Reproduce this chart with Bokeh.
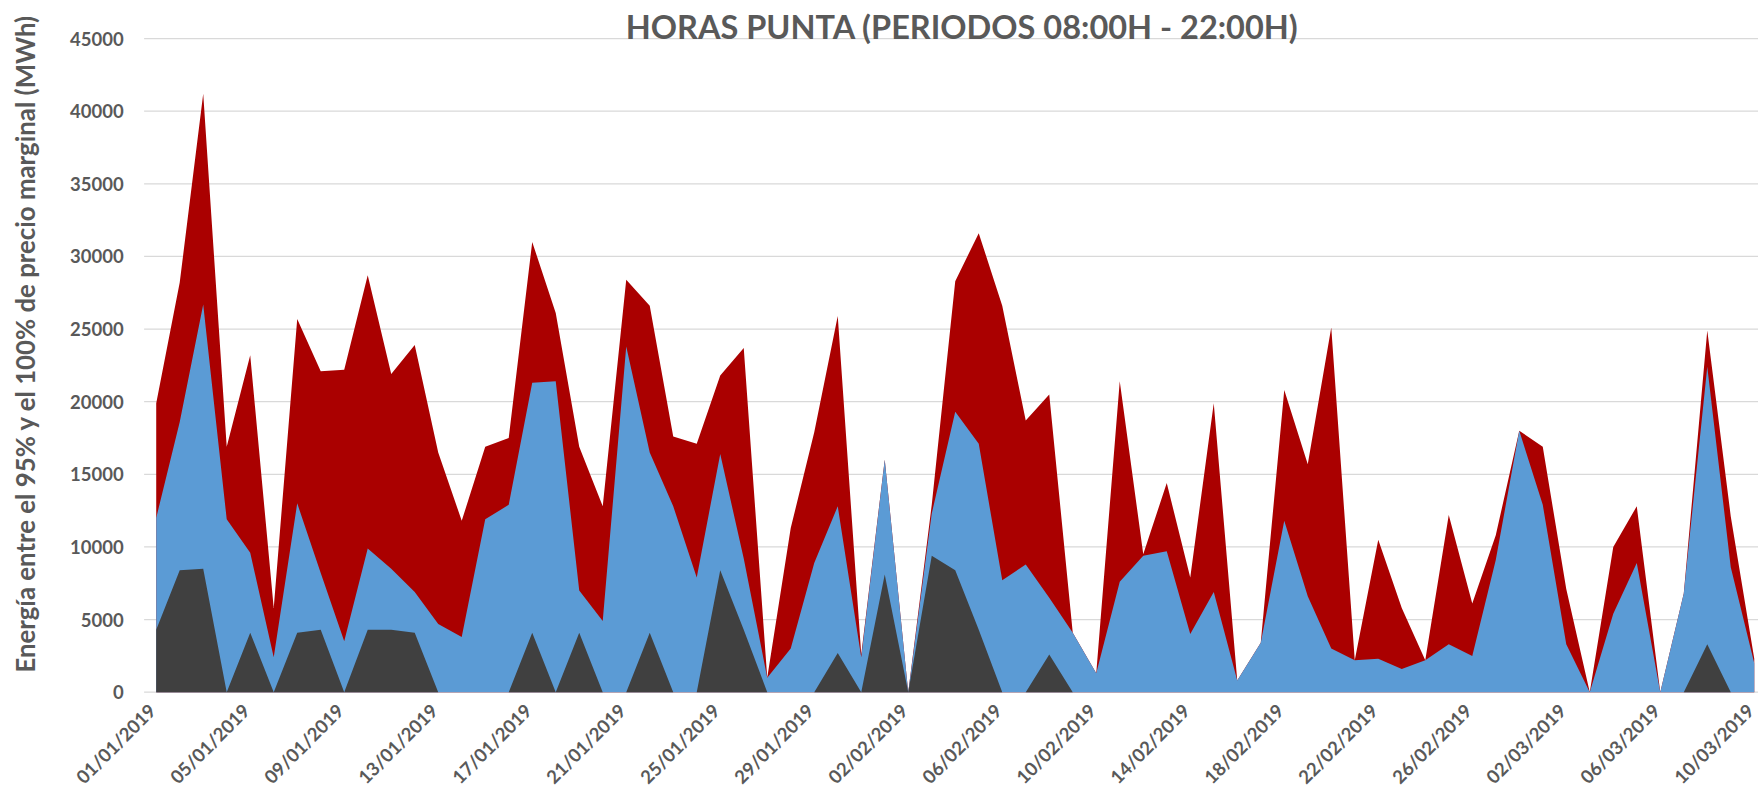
import datetime
import math
from bokeh.plotting import figure
from bokeh.models import Range1d
from bokeh.core.properties import value
from bokeh.embed import file_html
from bokeh.resources import INLINE

# ---- data (MWh) ----
fechas = [(datetime.date(2019, 1, 1) + datetime.timedelta(days=i)).strftime("%d/%m/%Y")
          for i in range(69)]

total_rojo = [19900, 28200, 41200, 16900, 23200, 5800, 25700, 22100, 22200, 28700,
              21900, 23900, 16500, 11800, 16900, 17500, 31000, 26100, 16900, 12800,
              28400, 26600, 17600, 17100, 21800, 23700, 1000, 11300, 17900, 25900,
              2600, 16000, 0, 12900, 28300, 31600, 26600, 18700, 20500, 4100,
              1300, 21400, 9500, 14400, 7900, 19900, 800, 3400, 20800, 15700,
              25100, 2200, 10500, 5800, 2200, 12200, 6100, 10800, 18000, 16900,
              7100, 0, 10000, 12800, 0, 6800, 24900, 12100, 2300]

serie_azul = [12000, 18600, 26700, 11900, 9600, 2400, 13000, 8200, 3500, 9900,
              8500, 6900, 4700, 3800, 11900, 12900, 21300, 21400, 7000, 4900,
              23800, 16500, 12800, 7900, 16400, 9200, 1000, 3000, 8900, 12800,
              2400, 16000, 0, 12300, 19300, 17100, 7700, 8800, 6500, 4100,
              1300, 7600, 9400, 9700, 4000, 6900, 800, 3400, 11800, 6600,
              3000, 2200, 2300, 1600, 2200, 3300, 2500, 9100, 18000, 12900,
              3300, 0, 5400, 8900, 0, 6800, 22400, 8600, 2000]

serie_gris = [4300, 8400, 8500, 0, 4100, 0, 4100, 4300, 0, 4300,
              4300, 4100, 0, 0, 0, 0, 4100, 0, 4100, 0,
              0, 4100, 0, 0, 8400, 4300, 0, 0, 0, 2700,
              0, 8100, 0, 9400, 8400, 4300, 0, 0, 2600, 0,
              0, 0, 0, 0, 0, 0, 0, 0, 0, 0,
              0, 0, 0, 0, 0, 0, 0, 0, 0, 0,
              0, 0, 0, 0, 0, 0, 3300, 0, 0]

y_ticks = [0, 5000, 10000, 15000, 20000, 25000, 30000, 35000, 40000, 45000]
x_tick_idx = list(range(0, 69, 4))
titulo = "HORAS PUNTA (PERIODOS 08:00H - 22:00H)"
eje_y = "Energía entre el 95% y el 100% de precio marginal (MWh)"

idx = list(range(len(fechas)))

GRAY_TXT = "#595959"
GRID = "#d9d9d9"
FONT = value("Lato")

# layout scale (pixels per unit) used to place texts outside the plotting area
W, H = 1758, 795
X0, X1 = -6.626, 68.18          # whole canvas in category units
Y0, Y1 = -7112, 47621           # whole canvas in MWh
PXX = W / (X1 - X0)             # px per category
PXY = H / (Y1 - Y0)             # px per MWh
PLOT_LEFT = -0.515              # left edge of plot area (category units)

p = figure(width=W, height=H, output_backend="svg", toolbar_location=None,
           x_range=Range1d(X0, X1), y_range=Range1d(Y0, Y1),
           min_border=0, min_border_left=0, min_border_right=0,
           min_border_top=0, min_border_bottom=0)
p.outline_line_color = None
p.axis.visible = False
p.grid.visible = False
p.background_fill_color = "white"
p.border_fill_color = "white"

# horizontal gridlines (plot area only)
p.segment(x0=[PLOT_LEFT] * len(y_ticks), x1=[X1 + 1] * len(y_ticks),
          y0=y_ticks, y1=y_ticks, line_color=GRID, line_width=1.3)

# areas
p.varea(x=idx, y1=0, y2=total_rojo, fill_color="#AA0000")
p.varea(x=idx, y1=0, y2=serie_azul, fill_color="#5B9BD5")
p.varea(x=idx, y1=0, y2=serie_gris, fill_color="#404040")

# y tick labels
p.text(x=[PLOT_LEFT - 20.5 / PXX] * len(y_ticks), y=y_ticks,
       text=[str(t) for t in y_ticks], text_align="right",
       text_baseline="middle", text_font=FONT, text_font_size="18.5px",
       text_font_style="bold", text_color=GRAY_TXT)

# x tick labels (rotated 45 degrees)
p.text(x=[i - 4 / PXX for i in x_tick_idx], y=[-15 / PXY] * len(x_tick_idx),
       text=[fechas[i] for i in x_tick_idx], angle=math.pi / 4,
       text_align="right", text_baseline="middle", text_font=FONT,
       text_font_size="18.5px", text_font_style="bold", text_color=GRAY_TXT)

# y axis title
p.text(x=[PLOT_LEFT - 119.6 / PXX], y=[24000], text=[eje_y], angle=math.pi / 2,
       text_align="center", text_baseline="middle", text_font=FONT,
       text_font_size="25.8px", text_font_style="bold", text_color=GRAY_TXT)

# chart title
p.text(x=[34.3], y=[Y1 - 26 / PXY], text=[titulo], text_align="center",
       text_baseline="alphabetic", text_font=FONT, text_font_size="32.5px",
       text_font_style="bold", text_color=GRAY_TXT)

open("out.html", "w").write(file_html(p, INLINE))
